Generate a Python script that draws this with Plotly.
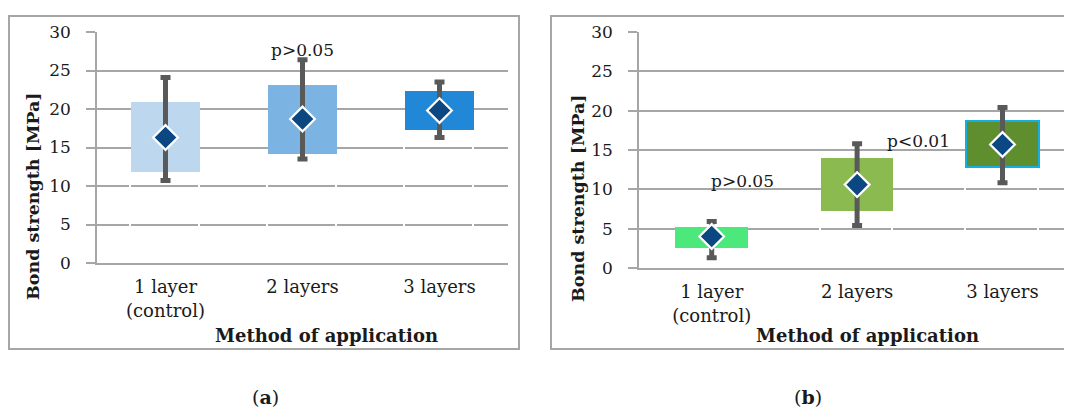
import plotly.graph_objects as go

# ---------------- data ----------------
categories = ["1 layer<br>(control)", "2 layers", "3 layers"]
y_ticks = [0, 5, 10, 15, 20, 25, 30]

# panel (a)
a_box_low = [11.8, 14.2, 17.3]
a_box_high = [20.9, 23.1, 22.4]
a_mean = [16.3, 18.7, 19.8]
a_whisk_low = [10.7, 13.5, 16.3]
a_whisk_high = [24.1, 26.4, 23.5]
a_colors = ["#bdd7ee", "#7bb3e3", "#2088d7"]

# panel (b)
b_box_low = [2.6, 7.3, 12.8]
b_box_high = [5.2, 14.0, 18.75]
b_mean = [4.0, 10.6, 15.7]
b_whisk_low = [1.3, 5.4, 10.85]
b_whisk_high = [5.9, 15.8, 20.4]
b_colors = ["#4ce87b", "#8bbb50", "#5f8e2e"]
b_border = ["rgba(0,0,0,0)", "rgba(0,0,0,0)", "#14aee0"]
b_border_w = [0, 0, 2.2]

# p-value annotations: (x category position, y value, text)
a_pvals = [(1.0, 27.7, "p>0.05")]
b_pvals = [(0.215, 11.05, "p>0.05"), (1.42, 16.2, "p<0.01")]

FONT = "DejaVu Serif"
GRID = "#a6a6a6"
DIAMOND = "#0b4781"
WHISK = "#595959"
TXT = "#1a1a1a"

fig = go.Figure()


def add_panel(xa, ya, low, high, mean, wl, wh, colors, line_colors, line_widths):
    xs = list(range(len(categories)))
    # invisible base with white outline (gaps in gridlines)
    fig.add_trace(go.Bar(
        x=xs, y=low, width=0.5, xaxis=xa, yaxis=ya,
        marker=dict(color="rgba(0,0,0,0)", line=dict(color="white", width=1.6)),
        showlegend=False, hoverinfo="skip"))
    fig.add_trace(go.Bar(
        x=xs, y=[h - l for h, l in zip(high, low)], width=0.5, xaxis=xa, yaxis=ya,
        marker=dict(color=colors, line=dict(color=line_colors, width=line_widths)),
        showlegend=False))
    fig.add_trace(go.Scatter(
        x=xs, y=mean, mode="markers", xaxis=xa, yaxis=ya,
        marker=dict(symbol="diamond", size=19, color=DIAMOND,
                    line=dict(color="white", width=2.2)),
        error_y=dict(type="data", symmetric=False,
                     array=[h - m for h, m in zip(wh, mean)],
                     arrayminus=[m - l for m, l in zip(mean, wl)],
                     color=WHISK, thickness=5, width=5),
        showlegend=False))


add_panel("x", "y", a_box_low, a_box_high, a_mean, a_whisk_low, a_whisk_high,
          a_colors, ["rgba(0,0,0,0)"] * 3, [0, 0, 0])
add_panel("x2", "y2", b_box_low, b_box_high, b_mean, b_whisk_low, b_whisk_high,
          b_colors, b_border, b_border_w)

# page body has an 8px margin, so the figure is laid out 8px smaller / shifted
OFF = 8
W, H = 1072 - OFF, 415 - OFF


def px(x):
    return (x - OFF) / W


def py(y):
    return 1 - (y - OFF) / H


xaxis_common = dict(
    tickmode="array", tickvals=[0, 1, 2], ticktext=categories,
    showgrid=False, zeroline=False, showline=True, linecolor=GRID, linewidth=1.5,
    ticks="", ticklabelstandoff=7, automargin=False,
    tickfont=dict(family=FONT, size=18, color=TXT),
)
yaxis_common = dict(
    range=[0, 30], tickmode="array", tickvals=y_ticks,
    showgrid=True, gridcolor=GRID, gridwidth=1.5, zeroline=False,
    showline=True, linecolor=GRID, linewidth=1.5,
    ticks="outside", ticklen=9, tickcolor=GRID, tickwidth=1.5,
    ticklabelstandoff=12, automargin=False,
    tickfont=dict(family=FONT, size=17, color=TXT),
)

fig.update_layout(
    width=W, height=H, margin=dict(l=0, r=0, t=0, b=0, autoexpand=False),
    paper_bgcolor="white", plot_bgcolor="white",
    barmode="stack", bargap=0,
    xaxis=dict(domain=[px(97), px(508)], range=[-0.5, 2.5], anchor="y", **xaxis_common),
    yaxis=dict(domain=[py(263), py(32)], anchor="x", **yaxis_common),
    xaxis2=dict(domain=[px(639), 1.0], range=[-0.5, 2.478], anchor="y2", **xaxis_common),
    yaxis2=dict(domain=[py(268), py(32)], anchor="x2", **yaxis_common),
)

# panel frames
fig.add_shape(type="rect", xref="paper", yref="paper",
              x0=px(9), x1=px(519), y0=py(349), y1=py(16),
              line=dict(color=GRID, width=2), layer="below")
fig.add_shape(type="rect", xref="paper", yref="paper",
              x0=px(551), x1=px(1085), y0=py(349), y1=py(16),
              line=dict(color=GRID, width=2), layer="below")

C = dict(xanchor="center", yanchor="middle", showarrow=False)
ann = []
for (xv, yv, t) in a_pvals:
    ann.append(dict(x=xv, y=yv, xref="x", yref="y", text=t,
                    font=dict(family=FONT, size=17, color=TXT), **C))
for (xv, yv, t) in b_pvals:
    ann.append(dict(x=xv, y=yv, xref="x2", yref="y2", text=t,
                    font=dict(family=FONT, size=17, color=TXT), **C))

ytitle_font = dict(family=FONT, size=17.5, color=TXT)
xtitle_font = dict(family=FONT, size=18, color=TXT)
ann += [
    dict(x=px(33), y=py(196), xref="paper", yref="paper", text="<b>Bond strength [MPa]</b>",
         textangle=-90, font=ytitle_font, **C),
    dict(x=px(578), y=py(198), xref="paper", yref="paper", text="<b>Bond strength [MPa]</b>",
         textangle=-90, font=ytitle_font, **C),
    dict(x=px(326), y=py(335), xref="paper", yref="paper", text="<b>Method of application</b>",
         font=xtitle_font, **C),
    dict(x=px(867), y=py(335), xref="paper", yref="paper", text="<b>Method of application</b>",
         font=xtitle_font, **C),
    dict(x=px(265), y=py(397), xref="paper", yref="paper", text="(<b>a</b>)",
         font=dict(family=FONT, size=19, color=TXT), **C),
    dict(x=px(808), y=py(397), xref="paper", yref="paper", text="(<b>b</b>)",
         font=dict(family=FONT, size=19, color=TXT), **C),
]
fig.update_layout(annotations=ann)

fig.write_html("out.html")
